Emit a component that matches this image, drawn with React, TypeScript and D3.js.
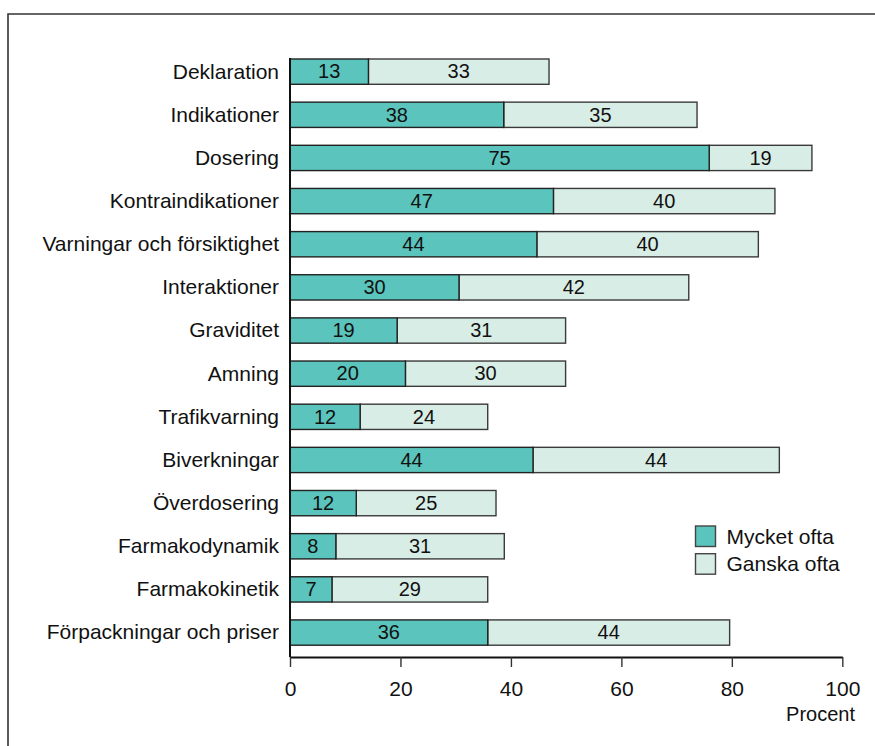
import React, { useRef, useEffect } from 'react';
import * as d3 from 'd3';

// Categories, top to bottom
const CATEGORIES = [
  'Deklaration',
  'Indikationer',
  'Dosering',
  'Kontraindikationer',
  'Varningar och försiktighet',
  'Interaktioner',
  'Graviditet',
  'Amning',
  'Trafikvarning',
  'Biverkningar',
  'Överdosering',
  'Farmakodynamik',
  'Farmakokinetik',
  'Förpackningar och priser',
];

// Bar lengths as drawn (percent)
const MYCKET_OFTA = [14.2, 38.7, 75.9, 47.7, 44.7, 30.6, 19.4, 20.9, 12.7, 44.0, 12.0, 8.3, 7.6, 35.8];
const GANSKA_OFTA = [32.7, 35.0, 18.6, 40.1, 40.1, 41.6, 30.5, 29.0, 23.1, 44.6, 25.3, 30.5, 28.2, 43.8];

// Printed numbers in the bars
const MYCKET_LABELS = [13, 38, 75, 47, 44, 30, 19, 20, 12, 44, 12, 8, 7, 36];
const GANSKA_LABELS = [33, 35, 19, 40, 40, 42, 31, 30, 24, 44, 25, 31, 29, 44];

const X_TICKS = [0, 20, 40, 60, 80, 100];
const SERIES = ['Mycket ofta', 'Ganska ofta'];
const COLORS = ['#5bc4bc', '#d8ede6'];

const FONT = '"Liberation Sans", Arial, sans-serif';

const App: React.FC = () => {
  const svgRef = useRef<SVGSVGElement>(null);

  useEffect(() => {
    if (!svgRef.current) return;
    const svg = d3.select(svgRef.current);
    svg.selectAll('*').remove();

    const W = 875;
    const H = 746;

    // Frame (runs off the bottom and right edges)
    svg
      .append('path')
      .attr('d', `M8,${H + 10} V14 H${W + 10}`)
      .attr('fill', 'none')
      .attr('stroke', '#333')
      .attr('stroke-width', 1.6);

    const xScale = d3.scaleLinear().domain([0, 100]).range([290, 842.3]);
    const yScale = d3
      .scaleBand()
      .domain(CATEGORIES)
      .range([59, 645.2])
      .paddingInner(0.414)
      .paddingOuter(0);

    const rows = CATEGORIES.map((c, i) => ({
      cat: c,
      a: MYCKET_OFTA[i],
      b: GANSKA_OFTA[i],
      la: MYCKET_LABELS[i],
      lb: GANSKA_LABELS[i],
    }));

    const g = svg.append('g');

    // Ganska ofta segment (after Mycket ofta)
    g.selectAll('rect.b')
      .data(rows)
      .enter()
      .append('rect')
      .attr('class', 'b')
      .attr('x', (d) => xScale(d.a))
      .attr('y', (d) => yScale(d.cat) || 0)
      .attr('width', (d) => xScale(d.a + d.b) - xScale(d.a))
      .attr('height', yScale.bandwidth())
      .attr('fill', COLORS[1])
      .attr('stroke', '#3a3a3a')
      .attr('stroke-width', 1.4);

    // Mycket ofta segment
    g.selectAll('rect.a')
      .data(rows)
      .enter()
      .append('rect')
      .attr('class', 'a')
      .attr('x', xScale(0))
      .attr('y', (d) => yScale(d.cat) || 0)
      .attr('width', (d) => xScale(d.a) - xScale(0))
      .attr('height', yScale.bandwidth())
      .attr('fill', COLORS[0])
      .attr('stroke', '#222')
      .attr('stroke-width', 1.4);

    // Value labels
    const mid = (d: { cat: string }) => (yScale(d.cat) || 0) + yScale.bandwidth() / 2;
    g.selectAll('text.la')
      .data(rows)
      .enter()
      .append('text')
      .attr('class', 'la')
      .attr('x', (d) => (xScale(0) + xScale(d.a)) / 2)
      .attr('y', mid)
      .attr('dy', '0.34em')
      .attr('text-anchor', 'middle')
      .style('font-family', FONT)
      .style('font-size', '20px')
      .attr('fill', '#111')
      .text((d) => d.la);

    g.selectAll('text.lb')
      .data(rows)
      .enter()
      .append('text')
      .attr('class', 'lb')
      .attr('x', (d) => (xScale(d.a) + xScale(d.a + d.b)) / 2)
      .attr('y', mid)
      .attr('dy', '0.34em')
      .attr('text-anchor', 'middle')
      .style('font-family', FONT)
      .style('font-size', '20px')
      .attr('fill', '#111')
      .text((d) => d.lb);

    // Category labels
    g.selectAll('text.cat')
      .data(rows)
      .enter()
      .append('text')
      .attr('class', 'cat')
      .attr('x', 279)
      .attr('y', mid)
      .attr('dy', '0.33em')
      .attr('text-anchor', 'end')
      .style('font-family', FONT)
      .style('font-size', '21px')
      .attr('fill', '#111')
      .text((d) => d.cat);

    // Y axis line
    svg
      .append('line')
      .attr('x1', xScale(0))
      .attr('x2', xScale(0))
      .attr('y1', 58)
      .attr('y2', 657)
      .attr('stroke', '#111')
      .attr('stroke-width', 2);

    // X axis
    const axisY = 657;
    const xAxis = svg
      .append('g')
      .attr('transform', `translate(0, ${axisY})`)
      .call(d3.axisBottom(xScale).tickValues(X_TICKS).tickSize(10).tickSizeOuter(0).tickPadding(14));
    xAxis.select('.domain').attr('stroke', '#111').attr('stroke-width', 2);
    xAxis.selectAll('.tick line').attr('stroke', '#333').attr('stroke-width', 1.4);
    xAxis
      .selectAll('.tick text')
      .attr('fill', '#111')
      .style('font-family', FONT)
      .style('font-size', '21px');

    svg
      .append('text')
      .attr('x', 855)
      .attr('y', 721)
      .attr('text-anchor', 'end')
      .style('font-family', FONT)
      .style('font-size', '20px')
      .attr('fill', '#111')
      .text('Procent');

    // Legend
    const legend = svg.append('g').attr('transform', 'translate(695.5, 526)');
    SERIES.forEach((s, i) => {
      legend
        .append('rect')
        .attr('x', 0)
        .attr('y', i * 27.7)
        .attr('width', 20)
        .attr('height', 20.5)
        .attr('fill', COLORS[i])
        .attr('stroke', '#444')
        .attr('stroke-width', 1.4);
      legend
        .append('text')
        .attr('x', 31)
        .attr('y', i * 27.7 + 17.5)
        .style('font-family', FONT)
        .style('font-size', '21px')
        .attr('fill', '#111')
        .text(s);
    });
  }, []);

  return (
    <svg
      ref={svgRef}
      width={875}
      height={746}
      style={{ position: 'absolute', left: 0, top: 0, background: '#fff' }}
    />
  );
};

export default App;
